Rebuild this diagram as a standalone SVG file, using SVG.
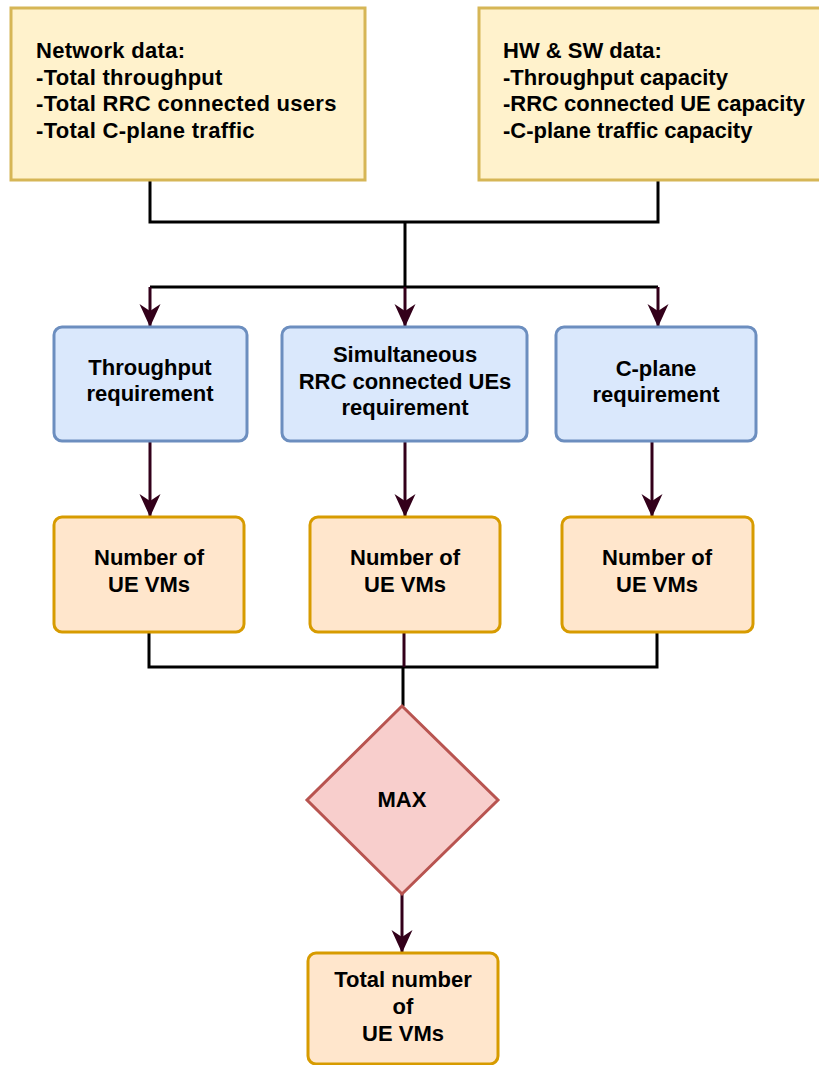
<svg xmlns="http://www.w3.org/2000/svg" width="819" height="1065" viewBox="0 0 819 1065">
  <defs>
    <style>
      text { font-family: "Liberation Sans", Arial, sans-serif; font-weight: bold; font-size: 22px; fill: #000; }
      .c { text-anchor: middle; }
      .wide { letter-spacing: 0.3px; }
      .data { fill: #fff2cc; stroke: #d6b656; stroke-width: 3; }
      .req { fill: #dae8fc; stroke: #6c8ebf; stroke-width: 3; }
      .num { fill: #ffe6cc; stroke: #d79b00; stroke-width: 3; }
      .max { fill: #f8cecc; stroke: #b85450; stroke-width: 3; }
      .wire { fill: none; stroke: #000; stroke-width: 3; }
      .flow { fill: none; stroke: #33001a; stroke-width: 3; }
    </style>
    <marker id="arrow" markerUnits="userSpaceOnUse" viewBox="-24 -12 25 24" refX="0" refY="0" markerWidth="25" markerHeight="24" orient="auto">
      <path d="M0 0 L-23 -10.5 L-16 0 L-23 10.5 Z" fill="#33001a"/>
    </marker>
  </defs>

  <!-- connectors -->
  <g id="connectors">
    <!-- inputs merge -->
    <path class="wire" d="M150 180 V222 H658 V180"/>
    <path class="wire" d="M405 222 V287"/>
    <path class="wire" d="M150 287 H658"/>
    <!-- split to requirements -->
    <path class="flow" d="M150 287 V327" marker-end="url(#arrow)"/>
    <path class="flow" d="M405 287 V327" marker-end="url(#arrow)"/>
    <path class="flow" d="M658 287 V327" marker-end="url(#arrow)"/>
    <!-- requirements to VM counts -->
    <path class="flow" d="M150 441 V517" marker-end="url(#arrow)"/>
    <path class="flow" d="M405 441 V517" marker-end="url(#arrow)"/>
    <path class="flow" d="M652 441 V517" marker-end="url(#arrow)"/>
    <!-- VM counts merge into MAX -->
    <path class="wire" d="M149 632 V667 H657 V632"/>
    <path class="flow" d="M404 632 V667"/>
    <path class="wire" d="M403 667 V706"/>
    <!-- MAX to total -->
    <path class="flow" d="M402 894 V953" marker-end="url(#arrow)"/>
  </g>

  <g id="network-data">
    <rect class="data" x="11" y="8" width="354" height="172"/>
    <text class="wide" x="36" y="58">Network data:</text>
    <text class="wide" x="36" y="84.5">-Total throughput</text>
    <text class="wide" x="36" y="111">-Total RRC connected users</text>
    <text class="wide" x="36" y="137.5">-Total C-plane traffic</text>
  </g>

  <g id="hw-sw-data">
    <rect class="data" x="479" y="8" width="345" height="172"/>
    <text x="503" y="58">HW &amp; SW data:</text>
    <text x="503" y="84.5">-Throughput capacity</text>
    <text x="503" y="111">-RRC connected UE capacity</text>
    <text x="503" y="137.5">-C-plane traffic capacity</text>
  </g>

  <g id="throughput-req">
    <rect class="req" x="54" y="327" width="193" height="114" rx="8"/>
    <text class="c" x="150" y="375">Throughput</text>
    <text class="c" x="150" y="401">requirement</text>
  </g>

  <g id="rrc-req">
    <rect class="req" x="282" y="327" width="245" height="114" rx="8"/>
    <text class="c" x="405" y="362">Simultaneous</text>
    <text class="c" x="405" y="389">RRC connected UEs</text>
    <text class="c" x="405" y="415">requirement</text>
  </g>

  <g id="cplane-req">
    <rect class="req" x="556" y="327" width="200" height="114" rx="8"/>
    <text class="c" x="656" y="376">C-plane</text>
    <text class="c" x="656" y="402">requirement</text>
  </g>

  <g id="vms-throughput">
    <rect class="num" x="54" y="517" width="190" height="115" rx="8"/>
    <text class="c" x="149" y="565">Number of</text>
    <text class="c" x="149" y="592">UE VMs</text>
  </g>

  <g id="vms-rrc">
    <rect class="num" x="310" y="517" width="190" height="115" rx="8"/>
    <text class="c" x="405" y="565">Number of</text>
    <text class="c" x="405" y="592">UE VMs</text>
  </g>

  <g id="vms-cplane">
    <rect class="num" x="562" y="517" width="191" height="115" rx="8"/>
    <text class="c" x="657" y="565">Number of</text>
    <text class="c" x="657" y="592">UE VMs</text>
  </g>

  <g id="max">
    <path class="max" d="M402 706 L498 800 L402 894 L307 800 Z"/>
    <text class="c" x="402" y="807">MAX</text>
  </g>

  <g id="total-vms">
    <rect class="num" x="308" y="953" width="190" height="111" rx="8"/>
    <text class="c" x="403" y="987">Total number</text>
    <text class="c" x="403" y="1014">of</text>
    <text class="c" x="403" y="1041">UE VMs</text>
  </g>
</svg>
